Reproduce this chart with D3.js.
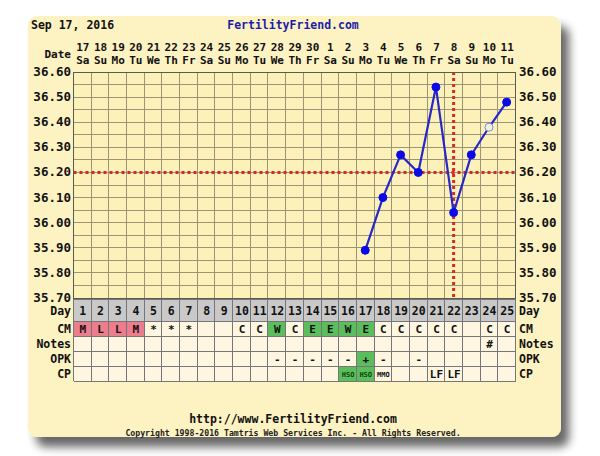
<!DOCTYPE html>
<html><head><meta charset="utf-8">
<script src="https://cdn.jsdelivr.net/npm/d3@7"></script>
<style>
html,body{margin:0;padding:0;background:#fff;}
svg text{font-family:"DejaVu Sans Mono",monospace;font-weight:bold;}
</style></head>
<body><svg id="c" width="600" height="456"></svg>
<script>
const cycleDays = d3.range(1, 26);
const dateNums = [17,18,19,20,21,22,23,24,25,26,27,28,29,30,1,2,3,4,5,6,7,8,9,10,11];
const weekdays = ["Sa","Su","Mo","Tu","We","Th","Fr","Sa","Su","Mo","Tu","We","Th","Fr","Sa","Su","Mo","Tu","We","Th","Fr","Sa","Su","Mo","Tu"];
const temps = [null,null,null,null,null,null,null,null,null,null,null,null,null,null,null,null,35.89,36.10,36.27,36.20,36.54,36.04,36.27,36.38,36.48];
const discarded = [24];
const coverline = 36.20;
const ovulationDay = 22;
const yTicks = [36.60,36.50,36.40,36.30,36.20,36.10,36.00,35.90,35.80,35.70];
const cmValues = ["M","L","L","M","*","*","*","","","C","C","W","C","E","E","W","E","C","C","C","C","C","","C","C"];
const notesValues = ["","","","","","","","","","","","","","","","","","","","","","","","#",""];
const opkValues = ["","","","","","","","","","","","-","-","-","-","-","+","-","","-","","","","",""];
const cpValues = ["","","","","","","","","","","","","","","","HSO","HSO","MMO","","","LF","LF","","",""];
const rowLabels = ["CM","Notes","OPK","CP"];

const svg = d3.select("#c");
const defs = svg.append("defs");
const f = defs.append("filter").attr("id","sh").attr("x","-10%").attr("y","-10%").attr("width","130%").attr("height","130%");
f.append("feGaussianBlur").attr("in","SourceAlpha").attr("stdDeviation",5).attr("result","b");
f.append("feOffset").attr("in","b").attr("dx",8).attr("dy",10).attr("result","o");
f.append("feComponentTransfer").attr("in","o").attr("result","o2").append("feFuncA").attr("type","linear").attr("slope",0.6);
const fm = f.append("feMerge"); fm.append("feMergeNode").attr("in","o2"); fm.append("feMergeNode").attr("in","SourceGraphic");

svg.append("rect").attr("x",28).attr("y",16).attr("width",533).attr("height",421).attr("rx",9)
  .attr("fill","#fdf2c2").attr("filter","url(#sh)");

const x = d3.scaleLinear().domain([0.5,25.5]).range([73.5,515.5]);
const y = d3.scaleLinear().domain([35.70,36.60]).range([298,72]);
const cw = x(2)-x(1);

// titles
svg.append("text").attr("x",31).attr("y",29).attr("font-size",11.5).attr("fill","#111").text("Sep 17, 2016");
svg.append("text").attr("x",293).attr("y",29).attr("text-anchor","middle").attr("font-size",11.5).attr("fill","#1c1ca8").text("FertilityFriend.com");

// date header
svg.append("text").attr("x",71).attr("y",58).attr("text-anchor","end").attr("font-size",11).attr("fill","#111").text("Date");
const hdr = svg.append("g").attr("font-size",11).attr("fill","#111").attr("text-anchor","middle");
cycleDays.forEach((d,i)=>{
  hdr.append("text").attr("x",x(d)+0.5).attr("y",51).text(dateNums[i]);
  hdr.append("text").attr("x",x(d)+0.5).attr("y",64).text(weekdays[i]);
});

// plot background and grid
svg.append("rect").attr("x",x(0.5)).attr("y",y(36.6)).attr("width",x(25.5)-x(0.5)).attr("height",y(35.7)-y(36.6)).attr("fill","#fcf1b9");
const grid = svg.append("g").attr("stroke","#9b9479").attr("stroke-width",1).attr("shape-rendering","crispEdges");
d3.range(0,19).forEach(k=>{
  const v = 35.70 + k*0.05;
  grid.append("line").attr("x1",x(0.5)).attr("x2",x(25.5)).attr("y1",y(v)).attr("y2",y(v));
});
d3.range(0,26).forEach(k=>{
  grid.append("line").attr("x1",x(0.5+k)).attr("x2",x(0.5+k)).attr("y1",y(36.6)).attr("y2",y(35.7));
});

// y labels
const yl = svg.append("g").attr("font-size",12.5).attr("fill","#111");
yTicks.forEach(t=>{
  yl.append("text").attr("x",71).attr("y",y(t)+4).attr("text-anchor","end").text(t.toFixed(2));
  yl.append("text").attr("x",519).attr("y",y(t)+4).attr("text-anchor","start").text(t.toFixed(2));
});

// coverline & ovulation line
svg.append("line").attr("x1",x(0.5)).attr("x2",x(25.5)).attr("y1",y(coverline)).attr("y2",y(coverline))
  .attr("stroke","#d42a2a").attr("stroke-width",3).attr("stroke-dasharray","3,3");
svg.append("line").attr("x1",x(ovulationDay)).attr("x2",x(ovulationDay)).attr("y1",y(36.6)).attr("y2",y(35.7))
  .attr("stroke","#d42a2a").attr("stroke-width",3).attr("stroke-dasharray","3,3");

// temperature line
const pts = cycleDays.map((d,i)=>({d, t:temps[i]})).filter(p=>p.t!==null);
svg.append("path").datum(pts).attr("fill","none").attr("stroke","#2828c8").attr("stroke-width",2.2)
  .attr("d", d3.line().x(p=>x(p.d)).y(p=>y(p.t)));
svg.selectAll("circle.pt").data(pts).enter().append("circle")
  .attr("cx",p=>x(p.d)).attr("cy",p=>y(p.t)).attr("r",4)
  .attr("fill",p=>discarded.includes(p.d)?"#f4f0e0":"#0a0ae8")
  .attr("stroke",p=>discarded.includes(p.d)?"#7a8ae0":"#0a0ae8").attr("stroke-width",1);

// table
const tblTop = 299, dayH = 22, rowH = 15;
const tbl = svg.append("g");
tbl.append("rect").attr("x",x(0.5)).attr("y",tblTop).attr("width",x(25.5)-x(0.5)).attr("height",dayH).attr("fill","#c9c9c9");
cycleDays.forEach(d=>{
  tbl.append("text").attr("x",x(d)+0.5).attr("y",tblTop+15.5).attr("text-anchor","middle").attr("font-size",11.5).attr("fill","#111").text(d);
});
const rowsData = [cmValues, notesValues, opkValues, cpValues];
rowsData.forEach((vals,r)=>{
  const ry = tblTop + dayH + r*rowH;
  cycleDays.forEach((d,i)=>{
    const v = vals[i];
    let fill = "#fff6e2";
    if (r===0 && (v==="M"||v==="L")) fill = "#ec7d8c";
    if (r===0 && (v==="E"||v==="W")) fill = "#5cbd5c";
    if (r===2 && v==="+") fill = "#5cbd5c";
    if (r===3 && v==="HSO") fill = "#5cbd5c";
    tbl.append("rect").attr("x",x(d-0.5)).attr("y",ry).attr("width",cw).attr("height",rowH).attr("fill",fill);
    if (v) {
      const small = v.length===3;
      tbl.append("text").attr("x",x(d)+0.5).attr("y",ry+(small?10.5:11.5)).attr("text-anchor","middle")
        .attr("font-size",small?7:11).attr("fill",(r===3&&v==="HSO")?"#0b4a0b":"#111").text(v);
    }
  });
});
const tg = svg.append("g").attr("stroke","#767676").attr("stroke-width",1).attr("shape-rendering","crispEdges");
d3.range(0,26).forEach(k=>{
  tg.append("line").attr("x1",x(0.5+k)).attr("x2",x(0.5+k)).attr("y1",tblTop).attr("y2",tblTop+dayH+4*rowH);
});
[tblTop, tblTop+dayH].concat(d3.range(1,5).map(r=>tblTop+dayH+r*rowH)).forEach(yy=>{
  tg.append("line").attr("x1",x(0.5)).attr("x2",x(25.5)).attr("y1",yy).attr("y2",yy);
});
svg.append("rect").attr("x",x(0.5)).attr("y",y(36.6)).attr("width",x(25.5)-x(0.5)).attr("height",y(35.7)-y(36.6))
  .attr("fill","none").attr("stroke","#5a5a50").attr("shape-rendering","crispEdges");

// row labels
const lab = svg.append("g").attr("font-size",11.5).attr("fill","#111");
lab.append("text").attr("x",71).attr("y",tblTop+16).attr("text-anchor","end").text("Day");
lab.append("text").attr("x",519).attr("y",tblTop+16).attr("text-anchor","start").text("Day");
rowLabels.forEach((l,r)=>{
  const ry = tblTop + dayH + r*rowH + 11.5;
  lab.append("text").attr("x",71).attr("y",ry).attr("text-anchor","end").text(l);
  lab.append("text").attr("x",519).attr("y",ry).attr("text-anchor","start").text(l);
});

// footer
svg.append("text").attr("x",293).attr("y",423).attr("text-anchor","middle").attr("font-size",11.5).attr("fill","#111").text("http://www.FertilityFriend.com");
svg.append("text").attr("x",293).attr("y",436).attr("text-anchor","middle").attr("font-size",8.2).attr("fill","#222").text("Copyright 1998-2016 Tamtris Web Services Inc. - All Rights Reserved.");
</script></body></html>
